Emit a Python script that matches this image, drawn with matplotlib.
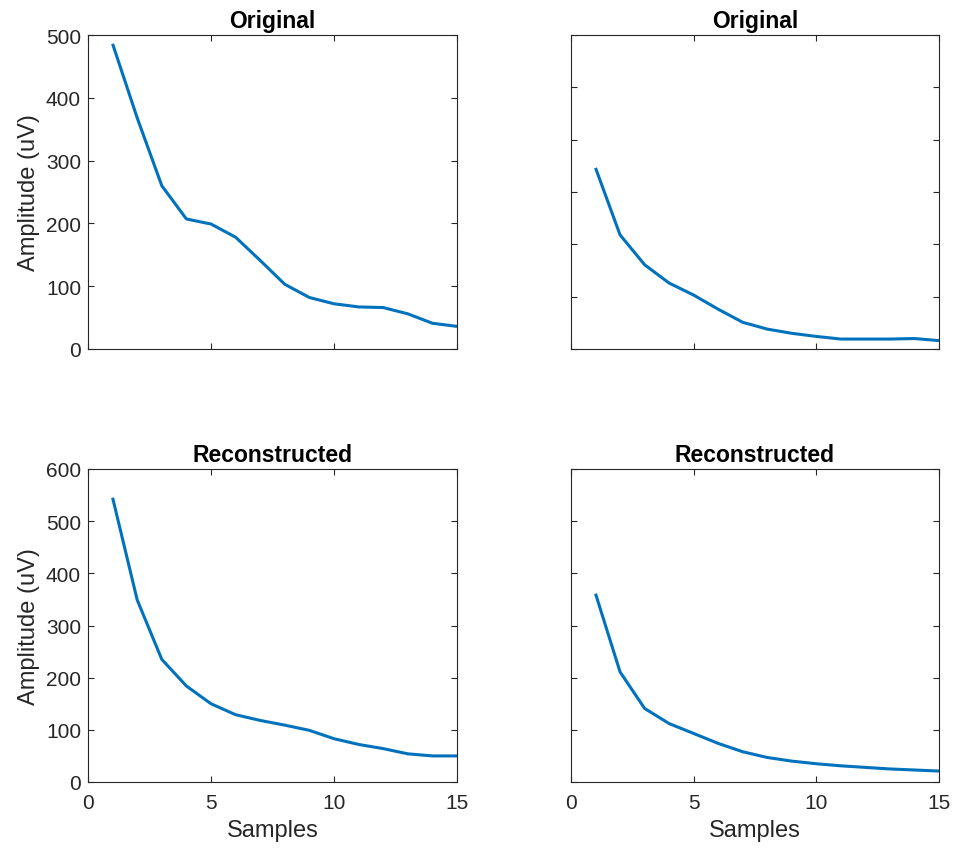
import matplotlib
matplotlib.use("Agg")
import matplotlib.pyplot as plt
import numpy as np

plt.rcParams['font.family'] = ['Liberation Sans', 'DejaVu Sans']

samples = list(range(1, 16))
orig_a = [486, 368, 260, 207, 199, 178, 141, 103, 82, 72, 67, 66, 56, 41, 36]
orig_b = [346, 218, 161, 126, 103, 76, 51, 38, 30, 24, 19, 19, 19, 20, 16]
recon_a = [545, 349, 235, 184, 150, 129, 118, 109, 99, 83, 72, 64, 54, 50, 50]
recon_b = [361, 211, 141, 112, 93, 74, 58, 47, 40, 35, 31, 28, 25, 23, 21]

titles = ["Original", "Original", "Reconstructed", "Reconstructed"]
series = [orig_a, orig_b, recon_a, recon_b]
ylims = [(0, 500), (0, 600), (0, 600), (0, 600)]
yticks = [[0, 100, 200, 300, 400, 500], [0, 100, 200, 300, 400, 500, 600],
          [0, 100, 200, 300, 400, 500, 600], [0, 100, 200, 300, 400, 500, 600]]
xticks = [0, 5, 10, 15]

W, H = 956, 854
fig = plt.figure(figsize=(W / 100, H / 100), dpi=100)
boxes = [(88, 36, 457, 350), (571, 36, 939, 350), (88, 470, 457, 783), (571, 470, 939, 783)]

axc = '#262626'
for i, (x0, y0, x1, y1) in enumerate(boxes):
    ax = fig.add_axes([x0 / W, 1 - y1 / H, (x1 - x0) / W, (y1 - y0) / H])
    ax.plot(samples, series[i], color='#0072BD', lw=2.2, solid_capstyle='butt')
    ax.set_xlim(0, 15)
    ax.set_ylim(*ylims[i])
    ax.set_xticks(xticks)
    ax.set_yticks(yticks[i])
    ax.tick_params(direction='in', top=True, right=True, length=4, width=0.8,
                   colors=axc, labelsize=15, labelcolor=axc)
    ax.tick_params(axis='x', pad=8)
    ax.tick_params(axis='y', pad=5)
    for s in ax.spines.values():
        s.set_color(axc)
        s.set_linewidth(0.8)
    ax.set_title(titles[i], fontsize=16.5, fontweight='bold', color='black', pad=6)
    if i < 2:
        ax.set_xticklabels([])
    else:
        ax.set_xlabel("Samples", fontsize=17, color=axc, labelpad=5)
    if i % 2 == 1:
        ax.set_yticklabels([])
    else:
        ax.set_ylabel("Amplitude (uV)", fontsize=17, color=axc, labelpad=4)

fig.savefig("out.png", dpi=100)
